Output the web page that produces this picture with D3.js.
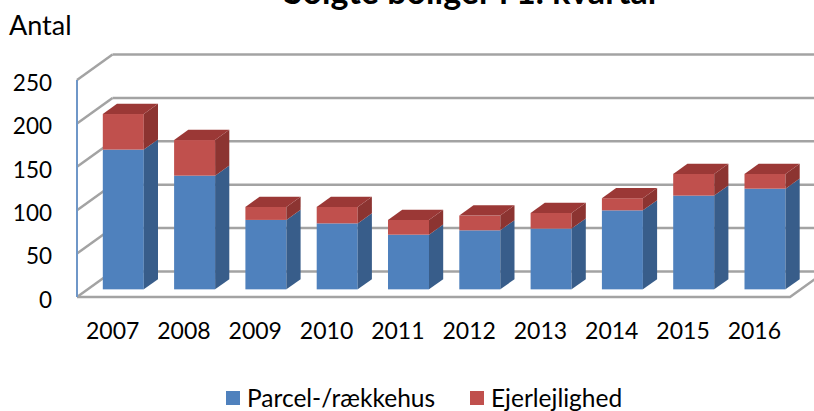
<!DOCTYPE html>
<html>
<head>
<meta charset="utf-8">
<script src="https://cdn.jsdelivr.net/npm/d3@7"></script>
<style>
  body { margin: 0; background: #fff; }
  text { font-family: Lato, sans-serif; fill: #000; }
</style>
</head>
<body>
<div id="chart"></div>
<script>
// data
const years = ['2007', '2008', '2009', '2010', '2011', '2012', '2013', '2014', '2015', '2016'];
const parcel = [161, 131, 80, 76, 63, 68, 70, 91, 108, 116];
const ejer = [41, 41, 15, 19, 17, 17, 18, 14, 25, 17];
const seriesNames = ['Parcel-/rækkehus', 'Ejerlejlighed'];
const yTicks = [0, 50, 100, 150, 200, 250];

const W = 814, H = 411;
const DX = 35.5, DY = 25.5;   // depth of the floor
const f0 = 0.3, f1 = 0.7;     // bar front / back depth

const colors = {
    front: ['#4f81bd', '#c0504d'],
    side: ['#385d8a', '#8c3431'],
    top: ['#44709f', '#9b3836']
};

let svg = d3.select('#chart').append('svg')
    .attr('width', W)
    .attr('height', H);

let y = d3.scaleLinear().domain([0, 250]).range([297, 80]);
let x = d3.scaleBand().domain(years).range([77, 790])
    .paddingInner(0.425).paddingOuter(0.2125);

// title, mostly cut off at the top
svg.append('text')
    .attr('x', 470)
    .attr('y', 4)
    .attr('text-anchor', 'middle')
    .style('font-size', '34px')
    .style('font-weight', 'bold')
    .text('Solgte boliger i 1. kvartal');

svg.append('text')
    .attr('x', 9)
    .attr('y', 35)
    .style('font-size', '27px')
    .text('Antal');

// walls and floor
let grid = svg.append('g').attr('class', 'grid');
grid.selectAll('line.back')
    .data(yTicks)
    .enter().append('line')
    .attr('x1', 77 + DX).attr('x2', 790 + DX)
    .attr('y1', d => y(d) - DY).attr('y2', d => y(d) - DY)
    .attr('stroke', '#a3a3a3').attr('stroke-width', 2.5);
grid.selectAll('line.side')
    .data(yTicks)
    .enter().append('line')
    .attr('x1', 77).attr('x2', 77 + DX)
    .attr('y1', d => y(d)).attr('y2', d => y(d) - DY)
    .attr('stroke', '#a3a3a3').attr('stroke-width', 2.5);
grid.append('path')
    .attr('d', d3.line()([[77, y(0)], [790, y(0)], [790 + DX, y(0) - DY]]))
    .attr('fill', 'none')
    .attr('stroke', '#a3a3a3').attr('stroke-width', 2.5);
grid.append('line')
    .attr('x1', 77).attr('x2', 77)
    .attr('y1', y(0)).attr('y2', y(250))
    .attr('stroke', '#6f97c8').attr('stroke-width', 2);

// stacked 3d bars
let table = years.map((d, i) => ({year: d, s0: parcel[i], s1: ejer[i]}));
let stacked = d3.stack().keys(['s0', 's1'])(table);

let ddx = (f1 - f0) * DX, ddy = (f1 - f0) * DY;
let bw = x.bandwidth();

stacked.forEach(function (layer, k) {
    let g = svg.append('g').attr('class', 'series-' + k);
    layer.forEach(function (seg) {
        let x0 = x(seg.data.year) + f0 * DX;
        let yt = y(seg[1]) - f0 * DY;
        let yb = y(seg[0]) - f0 * DY;
        g.append('rect')
            .attr('x', x0).attr('y', yt)
            .attr('width', bw).attr('height', yb - yt)
            .attr('fill', colors.front[k]);
        g.append('path')
            .attr('d', d3.line()([[x0 + bw, yt], [x0 + bw + ddx, yt - ddy],
                [x0 + bw + ddx, yb - ddy], [x0 + bw, yb]]) + 'Z')
            .attr('fill', colors.side[k]);
        if (k === stacked.length - 1) {
            g.append('path')
                .attr('d', d3.line()([[x0, yt], [x0 + bw, yt],
                    [x0 + bw + ddx, yt - ddy], [x0 + ddx, yt - ddy]]) + 'Z')
                .attr('fill', colors.top[k]);
        }
    });
});

// axes
let xAxis = svg.append('g')
    .attr('transform', 'translate(0,323)')
    .call(d3.axisBottom(x).tickSize(0).tickPadding(0));
xAxis.select('.domain').remove();
xAxis.selectAll('text')
    .style('font-size', '23px')
    .style('font-family', 'Lato, sans-serif')
    .attr('fill', '#000');

let yAxis = svg.append('g')
    .attr('transform', 'translate(55,3)')
    .call(d3.axisLeft(y).tickValues(yTicks).tickSize(0).tickPadding(3));
yAxis.select('.domain').remove();
yAxis.selectAll('text')
    .style('font-size', '22.5px')
    .style('font-family', 'Lato, sans-serif')
    .attr('fill', '#000');

// legend
let legend = svg.append('g').attr('class', 'legend');
let legendX = [226, 470];
seriesNames.forEach(function (name, i) {
    legend.append('rect')
        .attr('x', legendX[i]).attr('y', 391)
        .attr('width', 14).attr('height', 14)
        .attr('fill', colors.front[i]);
    legend.append('text')
        .attr('x', legendX[i] + 21).attr('y', 398)
        .attr('dy', '0.35em')
        .style('font-size', '24.5px')
        .text(name);
});
</script>
</body>
</html>
